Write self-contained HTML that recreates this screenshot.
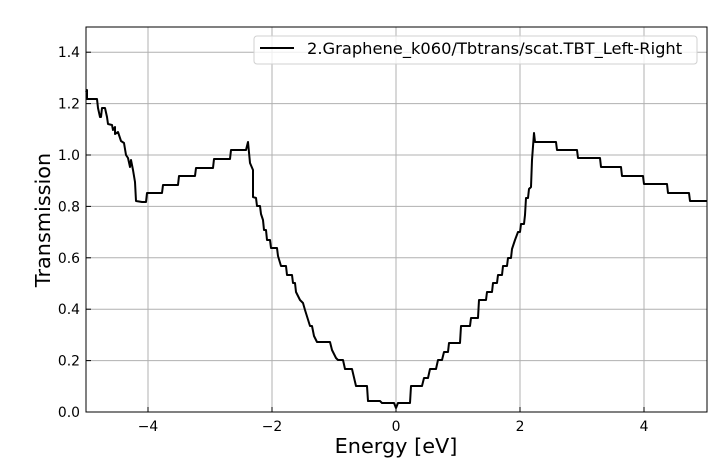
<!DOCTYPE html>
<html><head><style>body{margin:0;background:#fff}svg{display:block;font-family:"DejaVu Sans","Liberation Sans",sans-serif}</style></head><body>
<svg width="728" height="460" viewBox="0 0 728 460">
<rect width="728" height="460" fill="#fff"/>
<g stroke="#b0b0b0" stroke-width="1">
<line x1="148" y1="27" x2="148" y2="412"/><line x1="272" y1="27" x2="272" y2="412"/><line x1="396" y1="27" x2="396" y2="412"/><line x1="520" y1="27" x2="520" y2="412"/><line x1="644" y1="27" x2="644" y2="412"/>
<line x1="86" y1="360.6" x2="707" y2="360.6"/><line x1="86" y1="309.2" x2="707" y2="309.2"/><line x1="86" y1="257.8" x2="707" y2="257.8"/><line x1="86" y1="206.4" x2="707" y2="206.4"/><line x1="86" y1="155" x2="707" y2="155"/><line x1="86" y1="103.6" x2="707" y2="103.6"/><line x1="86" y1="52.2" x2="707" y2="52.2"/>
</g>
<polyline fill="none" stroke="#000" stroke-width="2" stroke-linejoin="round" points="86,92 87,90 87,99 97,99 98,108 100,117 101,117 102,108 105,108 107,117 108,124 112,125 113,130 115,127 115,134 118,132 121,141 124,143 126,155 128,158 130,167 131,160 133,170 135,182 136,201 142,202 146,202 147,193 162,193 163,185 178,185 179,176 195,176 196,168 213,168 214,159 230,159 231,150 246,150 248,142 250,163 253,170 253,197 256,198 257,206 260,206 261,214 263,220 264,230 266,230 267,240 270,240 271,248 277,248 278,256 281,266 286,266 287,275 292,275 293,283 295,283 296,292 300,300 303,303 305,310 310,326 312,326 314,336 317,342 330,342 332,350 336,358 338,360 343,360 345,369 352,369 356,386 367,386 368,401 380,401 382,403 394,403 396,408 398,403 410,403 411,386 422,386 424,378 428,378 430,369 436,369 438,360 442,360 444,352 448,352 449,343 460,343 461,326 470,326 471,318 478,318 479,300 486,300 487,292 492,292 493,283 497,283 498,275 502,275 503,266 507,266 508,258 511,258 512,249 515,240 518,232 520,232 521,224 524,224 525,215 526,198 528,198 529,189 531,187 532,160 534,133 535,142 556,142 557,150 577,150 578,158 600,158 601,167 621,167 622,176 643,176 644,184 667,184 668,193 689,193 690,201 707,201"/>
<rect x="86" y="27" width="621" height="385" fill="none" stroke="#000" stroke-width="1"/>
<g stroke="#000" stroke-width="1">
<line x1="148" y1="412" x2="148" y2="407"/><line x1="272" y1="412" x2="272" y2="407"/><line x1="396" y1="412" x2="396" y2="407"/><line x1="520" y1="412" x2="520" y2="407"/><line x1="644" y1="412" x2="644" y2="407"/>
<line x1="86" y1="360.6" x2="91" y2="360.6"/><line x1="86" y1="309.2" x2="91" y2="309.2"/><line x1="86" y1="257.8" x2="91" y2="257.8"/><line x1="86" y1="206.4" x2="91" y2="206.4"/><line x1="86" y1="155" x2="91" y2="155"/><line x1="86" y1="103.6" x2="91" y2="103.6"/><line x1="86" y1="52.2" x2="91" y2="52.2"/>
</g>
<g font-size="13.9" fill="#000" text-anchor="middle">
<text x="148" y="431">−4</text><text x="272" y="431">−2</text><text x="396" y="431">0</text><text x="520" y="431">2</text><text x="644" y="431">4</text>
</g>
<g font-size="13.9" fill="#000" text-anchor="end">
<text x="80" y="417">0.0</text><text x="80" y="365.6">0.2</text><text x="80" y="314.2">0.4</text><text x="80" y="262.8">0.6</text><text x="80" y="211.4">0.8</text><text x="80" y="160">1.0</text><text x="80" y="108.6">1.2</text><text x="80" y="57.2">1.4</text>
</g>
<text x="396" y="453" font-size="20.8" text-anchor="middle">Energy [eV]</text>
<text transform="translate(50,220) rotate(-90)" font-size="20.8" text-anchor="middle">Transmission</text>
<rect x="254" y="36" width="443" height="28" rx="3" fill="#fff" fill-opacity="0.8" stroke="#d0d0d0"/>
<line x1="260" y1="48" x2="294" y2="48" stroke="#000" stroke-width="2"/>
<text x="307" y="54" font-size="16.3">2.Graphene_k060/Tbtrans/scat.TBT_Left-Right</text>
</svg>
</body></html>
